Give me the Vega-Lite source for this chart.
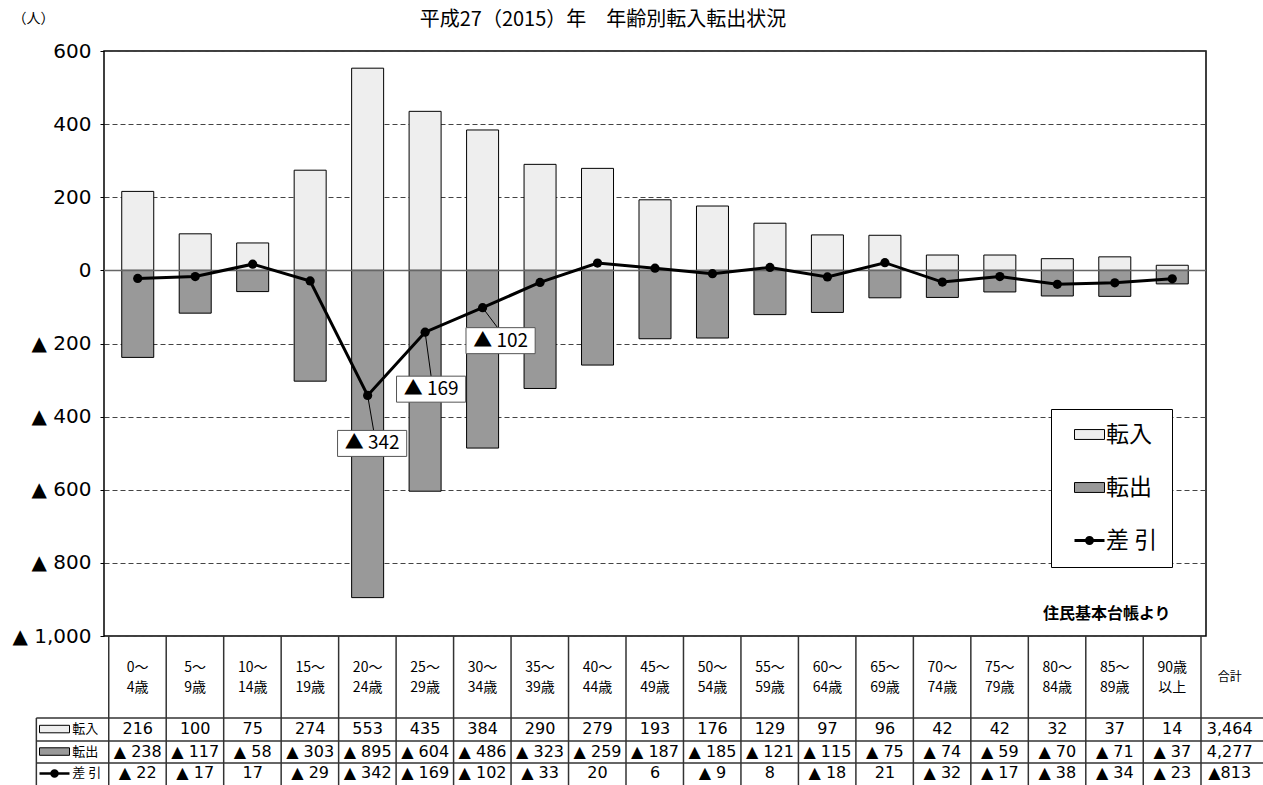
{
  "$schema": "https://vega.github.io/schema/vega-lite/v6.json",
  "width": 1102,
  "height": 585,
  "autosize": {"type": "none"},
  "padding": {"left": 104, "top": 51, "right": 57, "bottom": 149},
  "background": "white",
  "title": {"text": "平成27（2015）年　年齢別転入転出状況", "fontSize": 20, "fontWeight": "normal", "anchor": "middle", "dx": -52, "dy": 25, "offset": 6, "color": "black"},
  "config": {
    "font": "Noto Sans CJK JP",
    "view": {"stroke": "black", "strokeWidth": 1.5},
    "axisX": {"disable": true}
  },
  "data": {
    "values": [
      {"i": 0, "age1": "0～", "age2": "4歳", "転入": 216, "転出": -238, "差引": -22},
      {"i": 1, "age1": "5～", "age2": "9歳", "転入": 100, "転出": -117, "差引": -17},
      {"i": 2, "age1": "10～", "age2": "14歳", "転入": 75, "転出": -58, "差引": 17},
      {"i": 3, "age1": "15～", "age2": "19歳", "転入": 274, "転出": -303, "差引": -29},
      {"i": 4, "age1": "20～", "age2": "24歳", "転入": 553, "転出": -895, "差引": -342},
      {"i": 5, "age1": "25～", "age2": "29歳", "転入": 435, "転出": -604, "差引": -169},
      {"i": 6, "age1": "30～", "age2": "34歳", "転入": 384, "転出": -486, "差引": -102},
      {"i": 7, "age1": "35～", "age2": "39歳", "転入": 290, "転出": -323, "差引": -33},
      {"i": 8, "age1": "40～", "age2": "44歳", "転入": 279, "転出": -259, "差引": 20},
      {"i": 9, "age1": "45～", "age2": "49歳", "転入": 193, "転出": -187, "差引": 6},
      {"i": 10, "age1": "50～", "age2": "54歳", "転入": 176, "転出": -185, "差引": -9},
      {"i": 11, "age1": "55～", "age2": "59歳", "転入": 129, "転出": -121, "差引": 8},
      {"i": 12, "age1": "60～", "age2": "64歳", "転入": 97, "転出": -115, "差引": -18},
      {"i": 13, "age1": "65～", "age2": "69歳", "転入": 96, "転出": -75, "差引": 21},
      {"i": 14, "age1": "70～", "age2": "74歳", "転入": 42, "転出": -74, "差引": -32},
      {"i": 15, "age1": "75～", "age2": "79歳", "転入": 42, "転出": -59, "差引": -17},
      {"i": 16, "age1": "80～", "age2": "84歳", "転入": 32, "転出": -70, "差引": -38},
      {"i": 17, "age1": "85～", "age2": "89歳", "転入": 37, "転出": -71, "差引": -34},
      {"i": 18, "age1": "90歳", "age2": "以上", "転入": 14, "転出": -37, "差引": -23}
    ]
  },
  "transform": [
    {"calculate": "'▲ ' + format(-datum['転出'], ',')", "as": "outLabel"},
    {"calculate": "datum['差引'] < 0 ? '▲ ' + format(-datum['差引'], ',') : format(datum['差引'], ',')", "as": "netLabel"}
  ],
  "layer": [
    {
      "transform": [{"fold": ["転入", "転出"], "as": ["系列", "人数"]}],
      "mark": {"type": "bar", "orient": "vertical", "width": 32, "stroke": "black", "strokeWidth": 1},
      "encoding": {
        "x": {"field": "i", "type": "quantitative", "scale": {"domain": [-0.5, 18.5], "nice": false, "zero": false}, "axis": null},
        "y": {
          "field": "人数", "type": "quantitative", "stack": null,
          "scale": {"domain": [-1000, 600], "nice": false, "zero": false},
          "axis": {
            "title": "（人）", "titleAngle": 0, "titleX": -71, "titleY": -33, "titleAlign": "center", "titleBaseline": "middle",
            "titleFontSize": 14, "titleFontWeight": "normal", "titleColor": "black",
            "values": [600, 400, 200, 0, -200, -400, -600, -800, -1000],
            "labelExpr": "datum.value < 0 ? '▲ ' + format(-datum.value, ',') : format(datum.value, ',')",
            "labelFont": "DejaVu Sans", "labelFontSize": 20, "labelColor": "black", "labelPadding": 9,
            "ticks": true, "tickSize": 4, "tickColor": "black",
            "domain": false, "grid": true, "gridDash": [5, 3], "gridColor": "#444", "gridWidth": 1
          }
        },
        "fill": {
          "field": "系列", "type": "nominal",
          "scale": {"domain": ["転入", "転出", "差引"], "range": ["#eeeeee", "#999999", "#000000"]},
          "legend": {
            "title": null, "orient": "none", "legendX": 947, "legendY": 358,
            "padding": 14, "fillColor": "white", "strokeColor": "black",
            "symbolSize": 900, "symbolOffset": 13, "symbolStrokeColor": "black",
            "labelFontSize": 23, "labelOffset": 5, "labelColor": "black", "rowPadding": 29,
            "labelExpr": "datum.label === '差引' ? '差 引' : datum.label",
            "encode": {
              "symbols": {
                "update": {
                  "shape": {"signal": "datum.value === '差引' ? 'M-1,0H1M-0.2,0A0.2,0.2 0 1,1 0.2,0A0.2,0.2 0 1,1 -0.2,0Z' : 'M-1,-0.33H1V0.33H-1Z'"},
                  "strokeWidth": {"signal": "datum.value === '差引' ? 3 : 1"},
                  "stroke": {"value": "black"}
                }
              }
            }
          }
        }
      }
    },
    {
      "data": {"values": [{}]},
      "mark": {"type": "rule", "color": "#666", "strokeWidth": 1.5},
      "encoding": {"y": {"datum": 0}}
    },
    {
      "mark": {"type": "line", "color": "black", "strokeWidth": 3},
      "encoding": {"x": {"field": "i", "type": "quantitative"}, "y": {"field": "差引", "type": "quantitative"}}
    },
    {
      "mark": {"type": "point", "shape": "circle", "filled": true, "color": "black", "size": 85, "opacity": 1},
      "encoding": {"x": {"field": "i", "type": "quantitative"}, "y": {"field": "差引", "type": "quantitative"}}
    },
    {
      "transform": [{"filter": "datum.i === 4"}],
      "layer": [
        {"mark": {"type": "rule", "color": "black", "strokeWidth": 1, "x2Offset": 6, "y2Offset": 35},
         "encoding": {"x": {"field": "i", "type": "quantitative"}, "y": {"field": "差引", "type": "quantitative"}, "x2": {"field": "i"}, "y2": {"field": "差引"}}},
        {"mark": {"type": "point", "shape": "M-1.33,-0.5H1.33V0.5H-1.33Z", "size": 2704, "filled": true, "fill": "white", "stroke": "#555", "strokeWidth": 1, "opacity": 1, "xOffset": 4.5, "yOffset": 48},
         "encoding": {"x": {"field": "i", "type": "quantitative"}, "y": {"field": "差引", "type": "quantitative"}}},
        {"mark": {"type": "text", "fontSize": 19, "color": "black", "xOffset": 4.5, "yOffset": 48},
         "encoding": {"x": {"field": "i", "type": "quantitative"}, "y": {"field": "差引", "type": "quantitative"}, "text": {"field": "netLabel"}}}
      ]
    },
    {
      "transform": [{"filter": "datum.i === 5"}],
      "layer": [
        {"mark": {"type": "rule", "color": "black", "strokeWidth": 1, "x2Offset": 6, "y2Offset": 44},
         "encoding": {"x": {"field": "i", "type": "quantitative"}, "y": {"field": "差引", "type": "quantitative"}, "x2": {"field": "i"}, "y2": {"field": "差引"}}},
        {"mark": {"type": "point", "shape": "M-1.33,-0.5H1.33V0.5H-1.33Z", "size": 2704, "filled": true, "fill": "white", "stroke": "#555", "strokeWidth": 1, "opacity": 1, "xOffset": 6, "yOffset": 57},
         "encoding": {"x": {"field": "i", "type": "quantitative"}, "y": {"field": "差引", "type": "quantitative"}}},
        {"mark": {"type": "text", "fontSize": 19, "color": "black", "xOffset": 6, "yOffset": 57},
         "encoding": {"x": {"field": "i", "type": "quantitative"}, "y": {"field": "差引", "type": "quantitative"}, "text": {"field": "netLabel"}}}
      ]
    },
    {
      "transform": [{"filter": "datum.i === 6"}],
      "layer": [
        {"mark": {"type": "rule", "color": "black", "strokeWidth": 1, "x2Offset": 15, "y2Offset": 20},
         "encoding": {"x": {"field": "i", "type": "quantitative"}, "y": {"field": "差引", "type": "quantitative"}, "x2": {"field": "i"}, "y2": {"field": "差引"}}},
        {"mark": {"type": "point", "shape": "M-1.33,-0.5H1.33V0.5H-1.33Z", "size": 2704, "filled": true, "fill": "white", "stroke": "#555", "strokeWidth": 1, "opacity": 1, "xOffset": 18, "yOffset": 33},
         "encoding": {"x": {"field": "i", "type": "quantitative"}, "y": {"field": "差引", "type": "quantitative"}}},
        {"mark": {"type": "text", "fontSize": 19, "color": "black", "xOffset": 18, "yOffset": 33},
         "encoding": {"x": {"field": "i", "type": "quantitative"}, "y": {"field": "差引", "type": "quantitative"}, "text": {"field": "netLabel"}}}
      ]
    },
    {
      "data": {"values": [{}]},
      "mark": {"type": "text", "text": "住民基本台帳より", "fontSize": 16, "fontWeight": "bold", "color": "black"},
      "encoding": {"x": {"datum": 16.86}, "y": {"datum": -940}}
    },
    {
      "mark": {"type": "rule", "color": "#333", "strokeWidth": 1.5, "xOffset": -29},
      "encoding": {"x": {"field": "i", "type": "quantitative"}, "y": {"datum": -1000}, "y2": {"datum": -1407.5}}
    },
    {
      "data": {"values": [{}]},
      "mark": {"type": "rule", "color": "#333", "strokeWidth": 1.5},
      "encoding": {"x": {"datum": 18.5}, "y": {"datum": -1000}, "y2": {"datum": -1407.5}}
    },
    {
      "data": {"values": [{}]},
      "mark": {"type": "rule", "color": "#333", "strokeWidth": 1.5},
      "encoding": {"x": {"datum": -1.764}, "y": {"datum": -1224.3}, "y2": {"datum": -1407.5}}
    },
    {
      "data": {"values": [{}]},
      "mark": {"type": "rule", "color": "#333", "strokeWidth": 1.5},
      "encoding": {"x": {"datum": -1.764}, "x2": {"datum": 19.6}, "y": {"datum": -1224.3}}
    },
    {
      "data": {"values": [{}]},
      "mark": {"type": "rule", "color": "#333", "strokeWidth": 1.5},
      "encoding": {"x": {"datum": -1.764}, "x2": {"datum": 19.6}, "y": {"datum": -1287.2}}
    },
    {
      "data": {"values": [{}]},
      "mark": {"type": "rule", "color": "#333", "strokeWidth": 1.5},
      "encoding": {"x": {"datum": -1.764}, "x2": {"datum": 19.6}, "y": {"datum": -1347.4}}
    },
    {
      "mark": {"type": "text", "fontSize": 14, "color": "black"},
      "encoding": {"x": {"field": "i", "type": "quantitative"}, "y": {"datum": -1087.5}, "text": {"field": "age1"}}
    },
    {
      "mark": {"type": "text", "fontSize": 14, "color": "black"},
      "encoding": {"x": {"field": "i", "type": "quantitative"}, "y": {"datum": -1142}, "text": {"field": "age2"}}
    },
    {
      "mark": {"type": "text", "font": "DejaVu Sans", "fontSize": 16, "color": "black"},
      "encoding": {"x": {"field": "i", "type": "quantitative"}, "y": {"datum": -1254.5}, "text": {"field": "転入", "type": "quantitative", "format": ","}}
    },
    {
      "mark": {"type": "text", "font": "DejaVu Sans", "fontSize": 16, "color": "black"},
      "encoding": {"x": {"field": "i", "type": "quantitative"}, "y": {"datum": -1316}, "text": {"field": "outLabel"}}
    },
    {
      "mark": {"type": "text", "font": "DejaVu Sans", "fontSize": 16, "color": "black"},
      "encoding": {"x": {"field": "i", "type": "quantitative"}, "y": {"datum": -1376}, "text": {"field": "netLabel"}}
    },
    {
      "data": {"values": [{"転入合計": 3464, "転出合計": 4277, "差引合計": -813}]},
      "transform": [{"calculate": "'▲' + format(-datum['差引合計'], ',')", "as": "netTotalLabel"}],
      "layer": [
        {"mark": {"type": "text", "text": "合計", "fontSize": 12, "color": "black"},
         "encoding": {"x": {"datum": 19}, "y": {"datum": -1112}}},
        {"mark": {"type": "text", "font": "DejaVu Sans", "fontSize": 16, "color": "black"},
         "encoding": {"x": {"datum": 19}, "y": {"datum": -1254.5}, "text": {"field": "転入合計", "type": "quantitative", "format": ","}}},
        {"mark": {"type": "text", "font": "DejaVu Sans", "fontSize": 16, "color": "black"},
         "encoding": {"x": {"datum": 19}, "y": {"datum": -1316}, "text": {"field": "転出合計", "type": "quantitative", "format": ","}}},
        {"mark": {"type": "text", "font": "DejaVu Sans", "fontSize": 16, "color": "black"},
         "encoding": {"x": {"datum": 19}, "y": {"datum": -1376}, "text": {"field": "netTotalLabel"}}}
      ]
    },
    {
      "data": {"values": [{}]},
      "layer": [
        {"mark": {"type": "point", "shape": "M-1,-0.25H1V0.25H-1Z", "size": 900, "filled": true, "fill": "#eeeeee", "stroke": "black", "strokeWidth": 1, "opacity": 1},
         "encoding": {"x": {"datum": -1.448}, "y": {"datum": -1254.5}}},
        {"mark": {"type": "point", "shape": "M-1,-0.25H1V0.25H-1Z", "size": 900, "filled": true, "fill": "#999999", "stroke": "black", "strokeWidth": 1, "opacity": 1},
         "encoding": {"x": {"datum": -1.448}, "y": {"datum": -1316}}},
        {"mark": {"type": "point", "shape": "M-1,0H1M-0.2,0A0.2,0.2 0 1,1 0.2,0A0.2,0.2 0 1,1 -0.2,0Z", "size": 900, "filled": true, "fill": "black", "stroke": "black", "strokeWidth": 2.5, "opacity": 1},
         "encoding": {"x": {"datum": -1.448}, "y": {"datum": -1376}}},
        {"mark": {"type": "text", "text": "転入", "fontSize": 13, "align": "left", "color": "black"},
         "encoding": {"x": {"datum": -1.138}, "y": {"datum": -1254.5}}},
        {"mark": {"type": "text", "text": "転出", "fontSize": 13, "align": "left", "color": "black"},
         "encoding": {"x": {"datum": -1.138}, "y": {"datum": -1316}}},
        {"mark": {"type": "text", "text": "差 引", "fontSize": 13, "align": "left", "color": "black"},
         "encoding": {"x": {"datum": -1.138}, "y": {"datum": -1376}}}
      ]
    }
  ]
}
